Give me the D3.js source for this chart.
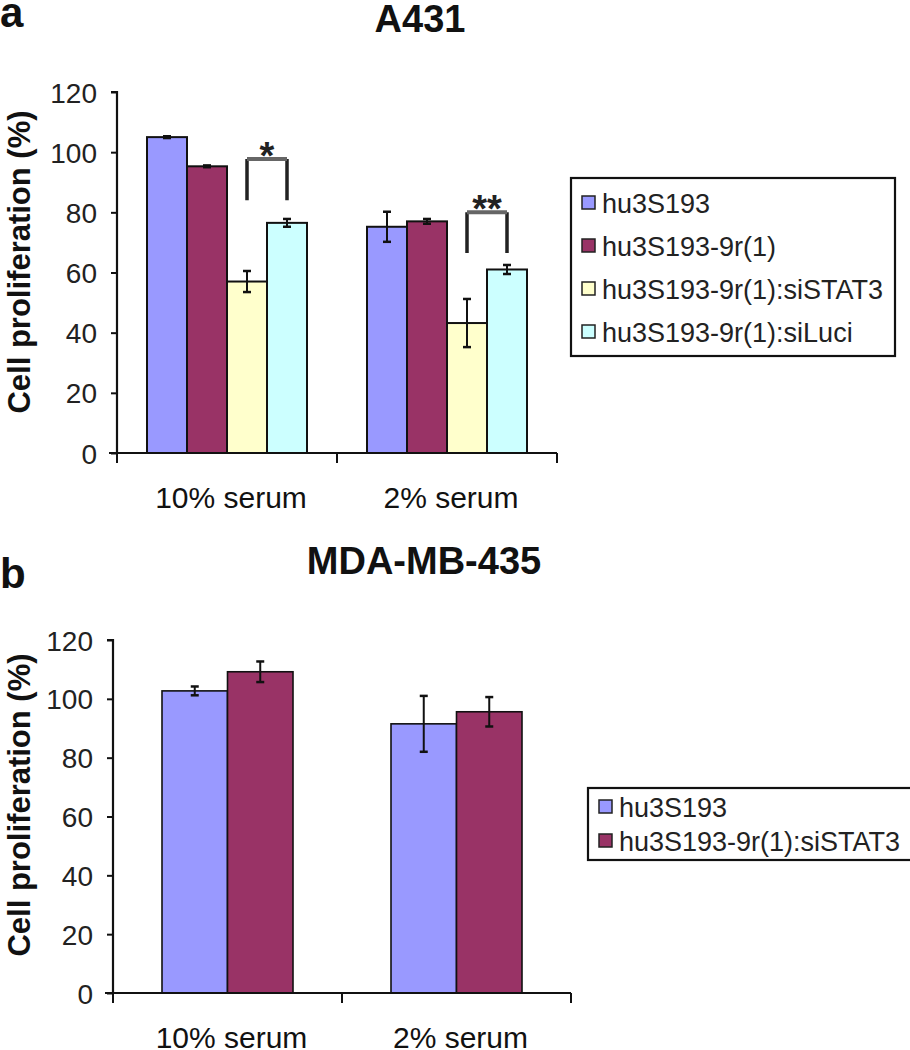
<!DOCTYPE html>
<html>
<head>
<meta charset="utf-8">
<script src="https://cdn.jsdelivr.net/npm/d3@7"></script>
<style>
  html, body { margin: 0; padding: 0; background: #fff; }
  svg { display: block; }
  text { font-family: Arial, "Liberation Sans", sans-serif; }
</style>
</head>
<body>
<svg id="chart" width="910" height="1050"></svg>
<script>
// ---------------- DATA ----------------
const categories = ["10% serum", "2% serum"];
const yTicks = [0, 20, 40, 60, 80, 100, 120];

// Panel a : A431
const seriesA = ["hu3S193", "hu3S193-9r(1)", "hu3S193-9r(1):siSTAT3", "hu3S193-9r(1):siLuci"];
const valuesA_hu3S193 = [105, 75.2];
const valuesA_9r1 = [95.3, 77];
const valuesA_siSTAT3 = [57, 43.2];
const valuesA_siLuci = [76.5, 61];
const errA_hu3S193 = [0.3, 5];
const errA_9r1 = [0.3, 0.8];
const errA_siSTAT3 = [3.5, 8];
const errA_siLuci = [1.3, 1.5];
// significance annotations (category, from series index, to series index, top value, leg value, label)
const sigA = [
  { cat: "10% serum", from: 2, to: 3, top: 97.7, leg: 84, label: "*" },
  { cat: "2% serum", from: 2, to: 3, top: 80, leg: 66.5, label: "**" }
];

// Panel b : MDA-MB-435
const seriesB = ["hu3S193", "hu3S193-9r(1):siSTAT3"];
const valuesB_hu3S193 = [102.7, 91.5];
const valuesB_siSTAT3 = [109.2, 95.6];
const errB_hu3S193 = [1.5, 9.5];
const errB_siSTAT3 = [3.5, 5];

const colors = ["#9999FF", "#993366", "#FFFFCC", "#CCFFFF"];
const colorsB = ["#9999FF", "#993366"];

// ---------------- DRAW ----------------
const svg = d3.select("#chart");

function panel(opts) {
  const g = svg.append("g");
  const x = d3.scaleBand().domain(categories).range([opts.left, opts.right]).paddingInner(0).paddingOuter(0);
  const y = d3.scaleLinear().domain([0, 120]).range([opts.bottom, opts.top]);
  const inner = (x.bandwidth() * opts.groupFrac);
  const x1 = d3.scaleBand().domain(d3.range(opts.series.length)).range([0, inner]).padding(0);
  const off = (x.bandwidth() - inner) / 2;

  // bars
  opts.series.forEach((s, si) => {
    g.append("g").selectAll("rect").data(categories).join("rect")
      .attr("x", c => x(c) + off + x1(si))
      .attr("width", x1.bandwidth())
      .attr("y", (c, ci) => y(opts.values[si][ci]))
      .attr("height", (c, ci) => y(0) - y(opts.values[si][ci]))
      .attr("fill", opts.colors[si])
      .attr("stroke", "#111")
      .attr("stroke-width", opts.barStroke);
  });
  // error bars
  opts.series.forEach((s, si) => {
    const eg = g.append("g").attr("stroke", "#111").attr("stroke-width", 2);
    categories.forEach((c, ci) => {
      const cx = x(c) + off + x1(si) + x1.bandwidth() / 2;
      const v = opts.values[si][ci], e = opts.errors[si][ci];
      eg.append("line").attr("x1", cx).attr("x2", cx).attr("y1", y(v + e)).attr("y2", y(v - e));
      eg.append("line").attr("x1", cx - 4).attr("x2", cx + 4).attr("y1", y(v + e)).attr("y2", y(v + e)).attr("stroke-width", 2.5);
      eg.append("line").attr("x1", cx - 4).attr("x2", cx + 4).attr("y1", y(v - e)).attr("y2", y(v - e)).attr("stroke-width", 2.5);
    });
  });

  // y axis
  const ya = g.append("g").attr("transform", `translate(${opts.left},0)`)
    .call(d3.axisLeft(y).tickValues(yTicks).tickSize(6).tickPadding(14).tickFormat(d3.format("d")));
  ya.select(".domain").attr("stroke", "#111").attr("stroke-width", 2.2).attr("d", `M-6,${y(120)}H0V${y(0)}`);
  ya.selectAll(".tick line").attr("stroke", "#111").attr("stroke-width", 2);
  ya.selectAll(".tick text").attr("font-size", 28).attr("fill", "#222")
    .attr("font-family", "Arial, 'Liberation Sans', sans-serif").attr("dy", "0.36em");

  // x axis
  const xa = g.append("g").attr("transform", `translate(0,${opts.bottom})`);
  xa.append("line").attr("x1", opts.left - 8).attr("x2", opts.right).attr("y1", 0).attr("y2", 0)
    .attr("stroke", "#111").attr("stroke-width", 2.2);
  const bounds = categories.map(c => x(c)).concat([x(categories[categories.length - 1]) + x.bandwidth()]);
  xa.selectAll("line.bt").data(bounds).join("line").attr("class", "bt")
    .attr("x1", d => d).attr("x2", d => d).attr("y1", 0).attr("y2", 10)
    .attr("stroke", "#111").attr("stroke-width", 2);
  xa.selectAll("text").data(categories).join("text")
    .attr("x", c => x(c) + x.bandwidth() / 2 + 4)
    .attr("y", 55)
    .attr("text-anchor", "middle")
    .attr("font-size", 30)
    .attr("fill", "#111")
    .text(c => c);

  // y label
  g.append("text")
    .attr("transform", `translate(${opts.ylabX},${opts.ylabY}) rotate(-90)`)
    .attr("text-anchor", "middle")
    .attr("font-size", 31).attr("font-weight", "bold").attr("fill", "#111")
    .text("Cell proliferation (%)");

  // titles
  g.append("text").attr("x", 0).attr("y", opts.letterY).attr("font-size", 42).attr("font-weight", "bold")
    .attr("fill", "#111").text(opts.letter);
  g.append("text").attr("x", opts.titleX).attr("y", opts.titleY).attr("text-anchor", "middle")
    .attr("font-size", 38).attr("font-weight", "bold").attr("fill", "#111").text(opts.title);

  // significance
  (opts.sig || []).forEach(s => {
    const ci = categories.indexOf(s.cat);
    const xa1 = x(s.cat) + off + x1(s.from) + x1.bandwidth() / 2;
    const xa2 = x(s.cat) + off + x1(s.to) + x1.bandwidth() / 2;
    g.append("path").attr("d", `M${xa1},${y(s.leg)}V${y(s.top)}M${xa2},${y(s.top)}V${y(s.leg)}`)
      .attr("stroke", "#222").attr("stroke-width", 3.5).attr("fill", "none");
    g.append("line").attr("x1", xa1).attr("x2", xa2).attr("y1", y(s.top)).attr("y2", y(s.top))
      .attr("stroke", "#666").attr("stroke-width", 4);
    g.append("text").attr("x", (xa1 + xa2) / 2).attr("y", y(s.top) + 10)
      .attr("text-anchor", "middle").attr("font-size", 38).attr("font-weight", "bold").attr("fill", "#222")
      .text(s.label);
  });

  // legend
  const lg = g.append("g");
  lg.append("rect").attr("x", opts.legX).attr("y", opts.legY).attr("width", opts.legW).attr("height", opts.legH)
    .attr("fill", "#fff").attr("stroke", "#111").attr("stroke-width", 2.2);
  opts.series.forEach((s, i) => {
    const cy = opts.legY + opts.legPad + i * opts.legStep;
    lg.append("rect").attr("x", opts.legX + 11).attr("y", cy - 7).attr("width", 13).attr("height", 13)
      .attr("fill", opts.colors[i]).attr("stroke", "#222").attr("stroke-width", 1.5);
    lg.append("text").attr("x", opts.legX + 31).attr("y", cy).attr("dy", "0.36em")
      .attr("font-size", 27).attr("fill", "#222").text(s);
  });
}

panel({
  left: 117, right: 557, top: 92, bottom: 453, groupFrac: 160 / 220,
  series: seriesA,
  values: [valuesA_hu3S193, valuesA_9r1, valuesA_siSTAT3, valuesA_siLuci],
  errors: [errA_hu3S193, errA_9r1, errA_siSTAT3, errA_siLuci],
  colors: colors, barStroke: 2,
  ylabX: 30, ylabY: 262,
  letter: "a", letterY: 27, title: "A431", titleX: 420, titleY: 32,
  sig: sigA,
  legX: 571, legY: 178, legW: 324, legH: 178, legPad: 25, legStep: 43
});

panel({
  left: 113, right: 571, top: 640, bottom: 993, groupFrac: 131 / 229,
  series: seriesB,
  values: [valuesB_hu3S193, valuesB_siSTAT3],
  errors: [errB_hu3S193, errB_siSTAT3],
  colors: colorsB, barStroke: 1.6,
  ylabX: 30, ylabY: 805,
  letter: "b", letterY: 588, title: "MDA-MB-435", titleX: 424, titleY: 574,
  legX: 588, legY: 788, legW: 330, legH: 72, legPad: 19, legStep: 34
});
</script>
</body>
</html>
